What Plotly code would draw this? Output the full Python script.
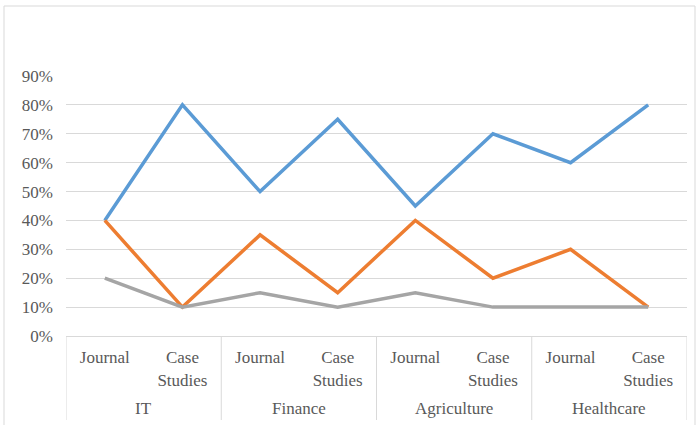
import plotly.graph_objects as go

groups = ["IT", "Finance", "Agriculture", "Healthcare"]
subs = ["Journal", "Case<br>Studies"] * 4
series_a = [0.40, 0.80, 0.50, 0.75, 0.45, 0.70, 0.60, 0.80]
series_b = [0.40, 0.10, 0.35, 0.15, 0.40, 0.20, 0.30, 0.10]
series_c = [0.20, 0.10, 0.15, 0.10, 0.15, 0.10, 0.10, 0.10]
y_ticks = [0, 0.1, 0.2, 0.3, 0.4, 0.5, 0.6, 0.7, 0.8, 0.9]

pos = list(range(len(subs)))
fig = go.Figure()
for name, vals, col in [("Series 1", series_a, "#5B9BD5"),
                        ("Series 2", series_b, "#ED7D31"),
                        ("Series 3", series_c, "#A5A5A5")]:
    fig.add_trace(go.Scatter(x=pos, y=vals, mode="lines", name=name,
                             line=dict(color=col, width=3.5)))

L, R, T, B = 66, 13, 76, 89
FONT = "Liberation Serif"
fig.update_layout(
    width=700, height=425,
    margin=dict(l=L, r=R, t=T, b=B),
    paper_bgcolor="white", plot_bgcolor="white",
    showlegend=False,
    font=dict(family=FONT, size=17, color="#595959"),
    xaxis=dict(range=[-0.5, len(subs) - 0.5], tickvals=pos, ticktext=subs,
               showline=True, linecolor="#D9D9D9", linewidth=1,
               ticks="", showgrid=False, zeroline=False, ticklabelstandoff=6),
    yaxis=dict(range=[0, 0.9], tickvals=y_ticks, tickformat=".0%",
               showgrid=True, gridcolor="#D9D9D9", gridwidth=1,
               zeroline=False, ticks="", ticklabelstandoff=12),
)
ph = 425 - T - B
pw = 700 - L - R
ybot = (425 - B - 420) / ph
for i in range(len(groups) + 1):
    xv = -0.5 + 2 * i
    fig.add_shape(type="line", xref="x", yref="paper", x0=xv, x1=xv, y0=0, y1=ybot,
                  line=dict(color="#D9D9D9", width=1))
for i, g in enumerate(groups):
    fig.add_annotation(x=2 * i + 0.5, xref="x", y=(425 - B - 408) / ph, yref="paper",
                       text=g, showarrow=False, yanchor="middle")
fig.add_shape(type="rect", xref="paper", yref="paper",
              x0=(4 - L) / pw, x1=(695 - L) / pw,
              y0=(425 - B - 430) / ph, y1=(425 - B - 6) / ph,
              line=dict(color="#D9D9D9", width=1), fillcolor="rgba(0,0,0,0)", layer="below")
fig.write_html("out.html")
